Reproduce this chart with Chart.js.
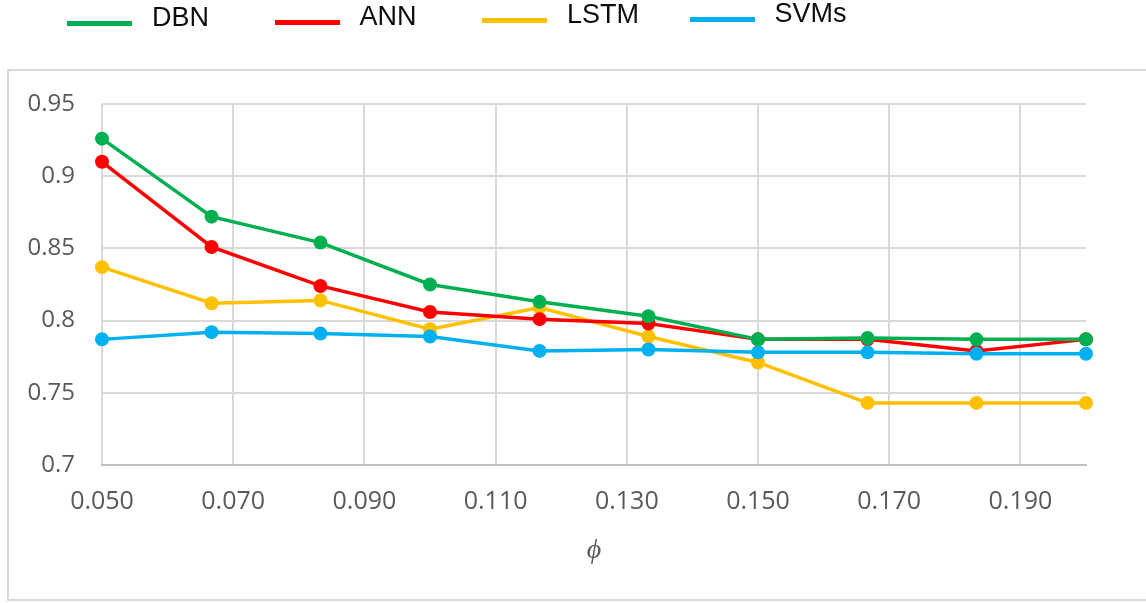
<!DOCTYPE html>
<html>
<head>
<meta charset="utf-8">
<script src="https://cdn.jsdelivr.net/npm/chart.js@4/dist/chart.umd.min.js"></script>
<style>
  html, body { margin: 0; padding: 0; background: #ffffff; }
  #wrap { position: relative; width: 1146px; height: 603px; overflow: hidden; background: #fff; }
  #frame { position: absolute; left: 7px; top: 69px; width: 1160px; height: 532px; border: 2px solid #d9d9d9; box-sizing: border-box; }
  #chart { position: absolute; left: 0; top: 0; }
  #legend { position: absolute; left: 0; top: 0; width: 1146px; height: 60px; }
  .item { position: absolute; height: 30px; font-family: "Liberation Sans", Arial, sans-serif; font-size: 27px; color: #0d0d0d; }
  .item .swatch { position: absolute; left: 0; width: 65px; height: 5px; }
  .item .label { position: absolute; left: 85px; top: 0; line-height: 30px; white-space: nowrap; }
</style>
</head>
<body>
<div id="wrap">
  <div id="frame"></div>
  <canvas id="chart" width="1146" height="603"></canvas>
  <div id="legend"></div>
</div>
<script>
// ---- data ----
const phiValues   = [0.05, 0.0667, 0.0833, 0.1, 0.1167, 0.1333, 0.15, 0.1667, 0.1833, 0.2];
const seriesNames = ["DBN", "ANN", "LSTM", "SVMs"];
const dbnValues   = [0.926, 0.872, 0.854, 0.825, 0.813, 0.803, 0.787, 0.788, 0.787, 0.787];
const annValues   = [0.910, 0.851, 0.824, 0.806, 0.801, 0.798, 0.787, 0.787, 0.779, 0.787];
const lstmValues  = [0.837, 0.812, 0.814, 0.794, 0.809, 0.789, 0.771, 0.743, 0.743, 0.743];
const svmValues   = [0.787, 0.792, 0.791, 0.789, 0.779, 0.780, 0.778, 0.778, 0.777, 0.777];
const xTickValues = [0.05, 0.07, 0.09, 0.11, 0.13, 0.15, 0.17, 0.19];
const xTickLabels = ["0.050", "0.070", "0.090", "0.110", "0.130", "0.150", "0.170", "0.190"];
const yTickValues = [0.7, 0.75, 0.8, 0.85, 0.9, 0.95];
const yTickLabels = ["0.7", "0.75", "0.8", "0.85", "0.9", "0.95"];
const xTitle = "\u03D5";

const seriesColors = ["#00b050", "#ff0000", "#ffc000", "#00b0f0"];
const seriesOrder  = [0, 2, 3, 1];
const allValues = [dbnValues, annValues, lstmValues, svmValues];

// ---- legend (HTML, real text) ----
const legendEl = document.getElementById('legend');
seriesNames.forEach((name, i) => {
  const it = document.createElement('div');
  it.className = 'item';
  it.style.left = (67 + i * 207.5) + 'px';
  it.style.top = (2 - i * 1.5) + 'px';
  const sw = document.createElement('div');
  sw.className = 'swatch';
  sw.style.background = seriesColors[i];
  sw.style.top = '19px';
  const lb = document.createElement('div');
  lb.className = 'label';
  lb.textContent = name;
  it.appendChild(sw); it.appendChild(lb);
  legendEl.appendChild(it);
});

// ---- chart ----
const datasets = seriesNames.map((name, i) => ({
  label: name,
  data: phiValues.map((x, j) => ({ x: x, y: allValues[i][j] })),
  borderColor: seriesColors[i],
  backgroundColor: seriesColors[i],
  pointBackgroundColor: seriesColors[i],
  pointBorderColor: seriesColors[i],
  borderWidth: 3.5,
  pointRadius: 7,
  pointBorderWidth: 0,
  tension: 0,
  clip: false,
  order: seriesOrder[i]
}));

const gridColor = '#d9d9d9';
const tickColor = '#595959';

new Chart(document.getElementById('chart'), {
  type: 'line',
  data: { datasets: datasets },
  options: {
    responsive: false,
    animation: false,
    devicePixelRatio: 1,
    layout: { padding: { left: 0, top: 104, right: 60, bottom: 0 } },
    plugins: { legend: { display: false }, tooltip: { enabled: false }, title: { display: false } },
    scales: {
      x: {
        type: 'linear',
        min: 0.05,
        max: 0.2,
        afterBuildTicks: (s) => { s.ticks = xTickValues.map(v => ({ value: v })); },
        afterFit: (s) => { s.height = 138; },
        ticks: {
          autoSkip: false,
          maxRotation: 0,
          padding: 22,
          color: tickColor,
          font: { family: '"Open Sans", sans-serif', size: 25 },
          callback: (v, i) => xTickLabels[i]
        },
        grid: { color: gridColor, lineWidth: 2, drawTicks: false },
        border: { display: true, color: '#bfbfbf', width: 2 },
        title: {
          display: true,
          text: xTitle,
          color: tickColor,
          font: { family: '"Liberation Serif", serif', size: 28, style: 'italic' },
          padding: { top: 0, bottom: 36 }
        }
      },
      y: {
        type: 'linear',
        min: 0.7,
        max: 0.95,
        afterBuildTicks: (s) => { s.ticks = yTickValues.map(v => ({ value: v })); },
        afterFit: (s) => { s.width = 102; },
        ticks: {
          padding: 27,
          color: tickColor,
          font: { family: '"Open Sans", sans-serif', size: 24 },
          callback: (v, i) => yTickLabels[i]
        },
        grid: { color: gridColor, lineWidth: 2, drawTicks: false },
        border: { display: false }
      }
    }
  }
});
</script>
</body>
</html>
